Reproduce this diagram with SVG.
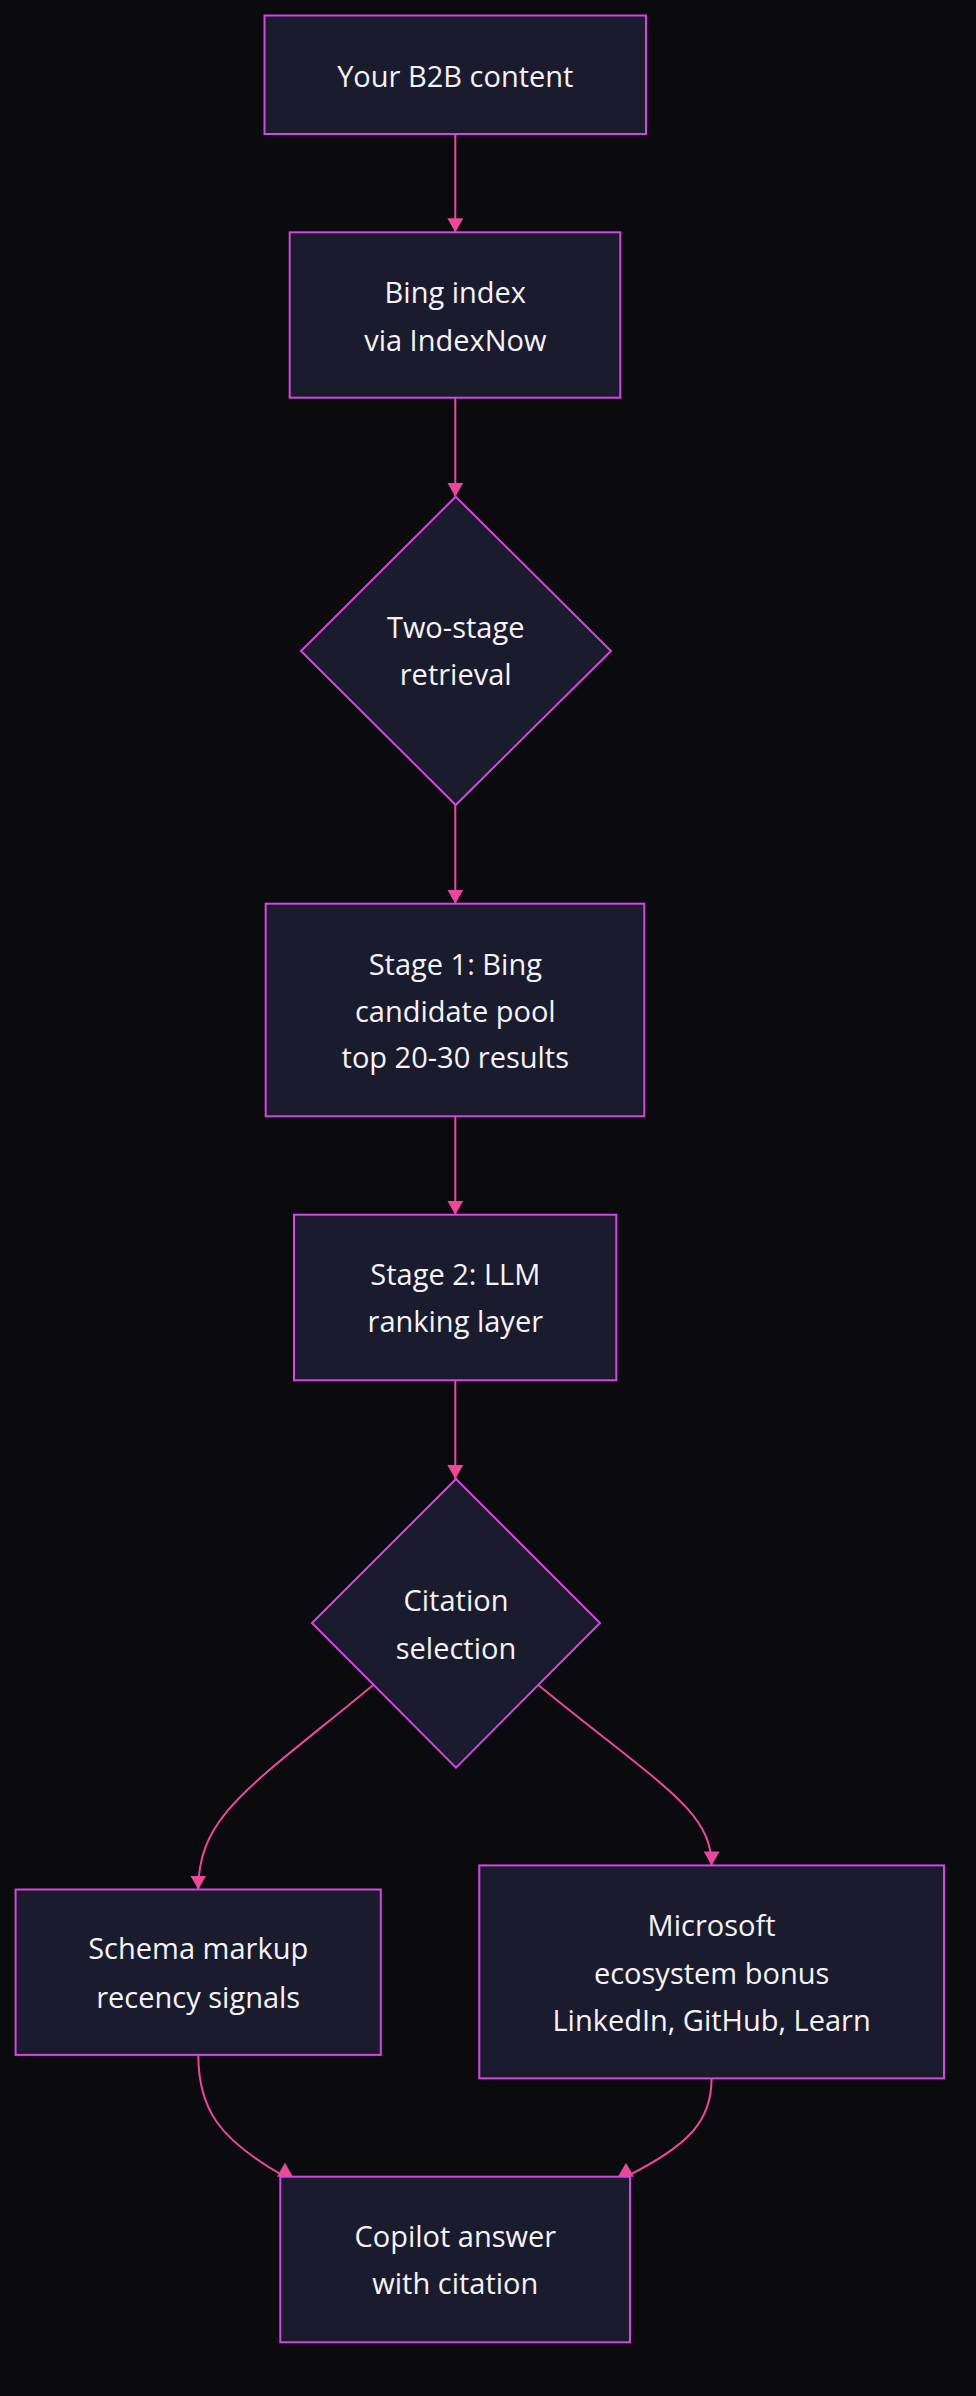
<svg xmlns="http://www.w3.org/2000/svg" width="976" height="2396" viewBox="0 0 976 2396">
<style>
.bg{fill:#0a0a0f}
.node rect,.node polygon{fill:#1b1b2e;stroke:#d447e0;stroke-width:2}
.node text{fill:#f4f4f8;font-family:"Open Sans","Noto Sans","Liberation Sans",sans-serif;font-size:29px;text-anchor:middle}
.edge{fill:none;stroke:#ec4899;stroke-width:2}
.down{marker-end:url(#arrow)}
.up{marker-end:url(#arrowUp)}
</style>
<defs>
<marker id="arrow" markerUnits="userSpaceOnUse" viewBox="0 0 14 16" markerWidth="14" markerHeight="16" refX="14" refY="8" orient="auto">
<path d="M0,0 L14,8 L0,16 z" fill="#ec4899"/>
</marker>
<marker id="arrowUp" markerUnits="userSpaceOnUse" viewBox="0 0 14 16" markerWidth="14" markerHeight="16" refX="0" refY="8" orient="-90">
<path d="M0,0 L14,8 L0,16 z" fill="#ec4899"/>
</marker>
</defs>
<rect class="bg" x="0" y="0" width="976" height="2396"/>
<g id="connectors">
<path class="edge down" d="M455.3,134 L455.3,232.3"/>
<path class="edge down" d="M455.3,397.7 L455.3,496.7"/>
<path class="edge down" d="M455.3,805 L455.3,903.7"/>
<path class="edge down" d="M455.3,1116.3 L455.3,1214.7"/>
<path class="edge down" d="M455.3,1380.3 L455.3,1479"/>
<path class="edge down" d="M373.3,1685 C250,1787 198.3,1815 198.3,1889.5"/>
<path class="edge down" d="M538.3,1685 C660,1785 711.6,1810 711.6,1865.4"/>
<path class="edge up" d="M198.3,2055 C198.3,2110 220,2140 285,2176.7"/>
<path class="edge up" d="M711.6,2078.4 C711.6,2120 690,2145 626,2176.7"/>
</g>
<g id="n1" class="node">
<rect x="264.5" y="15.5" width="381.5" height="118.5"/>
<text x="455.3" y="87">Your B2B content</text>
</g>
<g id="n2" class="node">
<rect x="289.7" y="232.3" width="330.6" height="165.4"/>
<text x="455.3" y="303.3">Bing index</text>
<text x="455.3" y="350.7">via IndexNow</text>
</g>
<g id="n3" class="node">
<polygon points="455.7,496.7 611,651 455.7,805 301,651"/>
<text x="455.7" y="638.3">Two-stage</text>
<text x="455.7" y="685">retrieval</text>
</g>
<g id="n4" class="node">
<rect x="265.7" y="903.7" width="378.6" height="212.6"/>
<text x="455.3" y="975">Stage 1: Bing</text>
<text x="455.3" y="1021.7">candidate pool</text>
<text x="455.3" y="1068.3">top 20-30 results</text>
</g>
<g id="n5" class="node">
<rect x="294" y="1214.7" width="322.3" height="165.6"/>
<text x="455.3" y="1285">Stage 2: LLM</text>
<text x="455.3" y="1332.3">ranking layer</text>
</g>
<g id="n6" class="node">
<polygon points="456,1479 600,1623 456,1767.6 312,1623"/>
<text x="456" y="1610.9">Citation</text>
<text x="456" y="1658.5">selection</text>
</g>
<g id="n7" class="node">
<rect x="15.6" y="1889.5" width="365.2" height="165.4"/>
<text x="198.2" y="1959">Schema markup</text>
<text x="198.2" y="2007.6">recency signals</text>
</g>
<g id="n8" class="node">
<rect x="479.3" y="1865.4" width="464.7" height="213"/>
<text x="711.6" y="1936">Microsoft</text>
<text x="711.6" y="1984">ecosystem bonus</text>
<text x="711.6" y="2031">LinkedIn, GitHub, Learn</text>
</g>
<g id="n9" class="node">
<rect x="280.3" y="2176.7" width="349.7" height="165.6"/>
<text x="455.3" y="2247.3">Copilot answer</text>
<text x="455.3" y="2294.3">with citation</text>
</g>
</svg>
